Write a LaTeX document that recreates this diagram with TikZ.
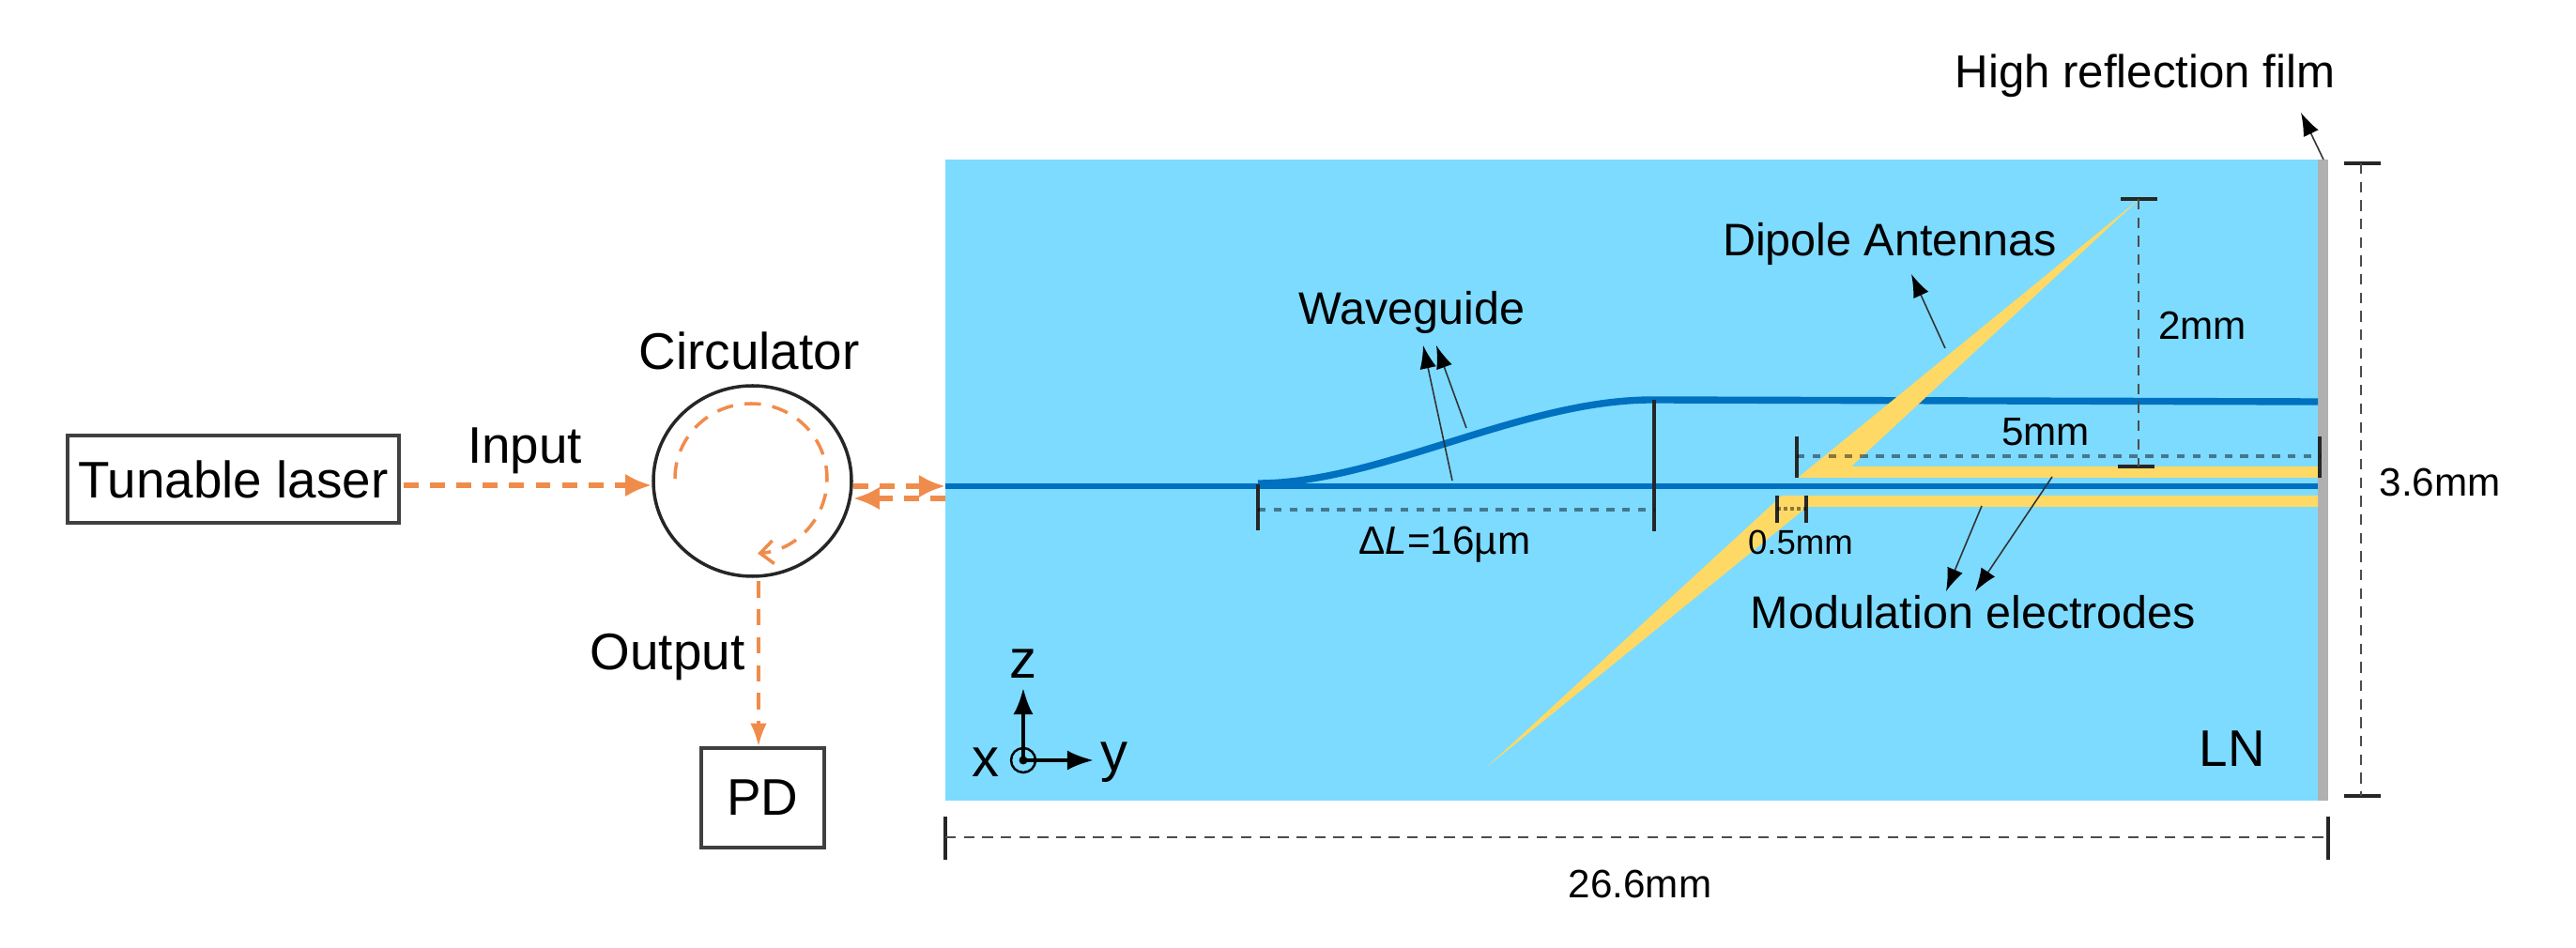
\documentclass[tikz,border=0pt]{standalone}
\usepackage{fontspec}
\setmainfont{Liberation Sans}
\usepackage{xcolor}
\usetikzlibrary{arrows.meta,shapes.geometric}
\definecolor{chipblue}{RGB}{125,219,255}
\definecolor{guideblue}{RGB}{0,112,192}
\definecolor{antyellow}{RGB}{255,217,102}
\definecolor{filmgray}{RGB}{176,176,176}
\definecolor{beamorange}{RGB}{240,140,75}

\begin{document}
\begin{tikzpicture}[
    lbl/.style={inner sep=0pt, font=\fontsize{12}{14}\selectfont},
    lblbig/.style={inner sep=0pt, font=\fontsize{13.8}{16}\selectfont},
    lblhuge/.style={inner sep=0pt, font=\fontsize{15.6}{18}\selectfont},
    box/.style={draw=black!75, line width=1pt, inner sep=0pt},
    beam/.style={draw=beamorange, line width=1.5pt, dash pattern=on 4.5pt off 3.5pt, -{Latex[length=8pt,width=7pt]}},
    beamthin/.style={draw=beamorange, line width=1pt, dash pattern=on 5pt off 3.5pt},
    guide/.style={draw=guideblue, line width=1.7pt},
    tick/.style={draw=black!85, line width=0.9pt},
    dim/.style={draw=black!70, line width=0.5pt, dash pattern=on 3.2pt off 2.4pt},
    dimdot/.style={draw=black, draw opacity=0.45, line width=1pt, dash pattern=on 2.4pt off 2.4pt},
    note/.style={draw=black!80, line width=0.45pt, -{Latex[length=7pt,width=5pt,black]}}
]
\useasboundingbox (0,0) rectangle (27.44,10.10);

% Chip
\fill[chipblue] (10.07,1.57) rectangle (24.69,8.40);
\fill[filmgray] (24.69,1.57) rectangle (24.80,8.40);

% Waveguide
\draw[guide] (10.07,4.92) -- (24.69,4.92);
\draw[guide, line width=2.1pt] (13.40,4.95) .. controls (14.70,4.95) and (16.20,5.84) .. (17.60,5.84) -- (24.69,5.82);

% Antennas and electrodes
\fill[antyellow] (19.15,5.01) -- (24.69,5.01) -- (24.69,5.13) -- (19.72,5.13) -- (22.79,7.98) -- cycle;
\fill[antyellow] (24.69,4.82) -- (18.98,4.82) -- (15.84,1.93) -- (19.25,4.70) -- (24.69,4.70) -- cycle;

% Left part
\node[box, minimum width=3.53cm, minimum height=0.93cm, font=\fontsize{15.6}{18}\selectfont] (laser) at (2.485,4.995) {Tunable laser};
\node[box, draw=black!85, ellipse, minimum width=2.11cm, minimum height=2.03cm] (circ) at (8.015,4.975) {};
\node[box, minimum width=1.31cm, minimum height=1.06cm, font=\fontsize{15.6}{18}\selectfont] (pd) at (8.125,1.60) {PD};
\node[lblhuge] (circlbl) at (7.98,6.36) {Circulator};
\node[lblhuge] (inputlbl) at (5.59,5.30) {Input};
\node[lblhuge] (outputlbl) at (7.11,3.10) {Output};

\coordinate (inbeam) at (4.30,4.93);
\coordinate (outbeam) at (8.08,3.91);
\coordinate (chipout) at (10.07,4.92);
\coordinate (chipin) at (10.07,4.79);
\coordinate (looptail) at (7.19,5.00);
\draw[beam] (inbeam) -- (inbeam -| circ.west);
\draw[beam] (circ.east |- chipout) -- (chipout);
\draw[beam] (chipin) -- (circ.east |- chipin);
\draw[beamthin, -{Latex[length=7pt,width=5pt]}] (outbeam) -- (outbeam |- pd.north);
\draw[beamthin, -{Straight Barb[length=4pt,width=7pt]}] (looptail) arc[start angle=180, end angle=-85, x radius=0.81, y radius=0.80];

% Labels on chip
\node[lblbig] (guidelbl) at (15.04,6.77) {Waveguide};
\node[lblbig] (antlbl) at (20.13,7.50) {Dipole Antennas};
\node[lblbig, font=\fontsize{14}{16}\selectfont] (filmlbl) at (22.85,9.29) {High reflection film};
\node[lblbig] (elecllbl) at (21.02,3.58) {Modulation electrodes};
\node[lblhuge] (lnlbl) at (23.78,2.12) {LN};
\node[lbl] (twolbl) at (23.46,6.63) {2mm};
\node[lbl] (fivelbl) at (21.79,5.50) {5mm};
\node[lbl] (dllbl) at (15.39,4.30) {Δ\textit{L}=16µm};
\node[lbl, font=\fontsize{10.4}{12}\selectfont] (gaplbl) at (19.18,4.32) {0.5mm};
\node[lbl] (heightlbl) at (25.99,4.96) {3.6mm};
\node[lbl] (lengthlbl) at (17.47,0.68) {26.6mm};

% Pointers
\coordinate (guidetipa) at (15.16,6.42);
\coordinate (guidetipb) at (15.30,6.42);
\coordinate (anttip) at (20.36,7.18);
\coordinate (filmtip) at (24.51,8.90);
\coordinate (electipa) at (20.73,3.80);
\coordinate (electipb) at (21.04,3.80);
\draw[note] (15.47,4.98) -- (guidetipa);
\draw[note] (15.62,5.54) -- (guidetipb);
\draw[note] (20.72,6.39) -- (anttip);
\draw[note] (24.75,8.40) -- (filmtip);
\draw[note] (21.11,4.71) -- (electipa);
\draw[note] (21.86,5.02) -- (electipb);

% Dimensions
\draw[tick] (13.40,4.94) -- (13.40,4.45);
\draw[tick] (17.62,5.84) -- (17.62,4.44);
\draw[dimdot] (13.40,4.67) -- (17.62,4.67);
\draw[tick] (19.14,5.45) -- (19.14,5.01);
\draw[tick] (24.71,5.45) -- (24.71,5.01);
\draw[dimdot] (19.14,5.24) -- (24.71,5.24);
\draw[tick] (18.93,4.82) -- (18.93,4.53);
\draw[tick] (19.24,4.82) -- (19.24,4.53);
\draw[dimdot, dash pattern=on 1pt off 1pt] (18.93,4.68) -- (19.24,4.68);
\draw[tick, line width=1.1pt] (22.59,7.98) -- (22.98,7.98);
\draw[tick, line width=1.1pt] (22.56,5.13) -- (22.95,5.13);
\draw[dim] (22.78,7.98) -- (22.78,5.13);
\draw[tick] (24.97,8.36) -- (25.36,8.36);
\draw[tick] (24.97,1.62) -- (25.36,1.62);
\draw[dim] (25.15,8.36) -- (25.15,1.62);
\draw[tick] (10.07,1.40) -- (10.07,0.94);
\draw[tick] (24.80,1.40) -- (24.80,0.94);
\draw[dim] (10.07,1.18) -- (24.80,1.18);

% Axes
\node[circle, draw=black, line width=0.7pt, minimum size=0.26cm, inner sep=0pt] (axis) at (10.90,2.00) {};
\node[circle, fill=black, minimum size=0.09cm, inner sep=0pt] (axisdot) at (axis.center) {};
\coordinate (ztip) at (10.90,2.77);
\coordinate (ytip) at (11.65,2.00);
\draw[line width=1.1pt, -{Latex[length=8pt,width=6pt]}] (axis.center) -- (ztip);
\draw[line width=1.1pt, -{Latex[length=8pt,width=6pt]}] (axis.center) -- (ytip);
\node[inner sep=0pt, font=\fontsize{16.5}{18}\selectfont] (zlbl) at (10.90,3.03) {z};
\node[inner sep=0pt, font=\fontsize{16.5}{18}\selectfont] (xlbl) at (10.50,1.98) {x};
\node[inner sep=0pt, font=\fontsize{16.5}{18}\selectfont] (ylbl) at (11.87,1.98) {y};
\end{tikzpicture}
\end{document}
